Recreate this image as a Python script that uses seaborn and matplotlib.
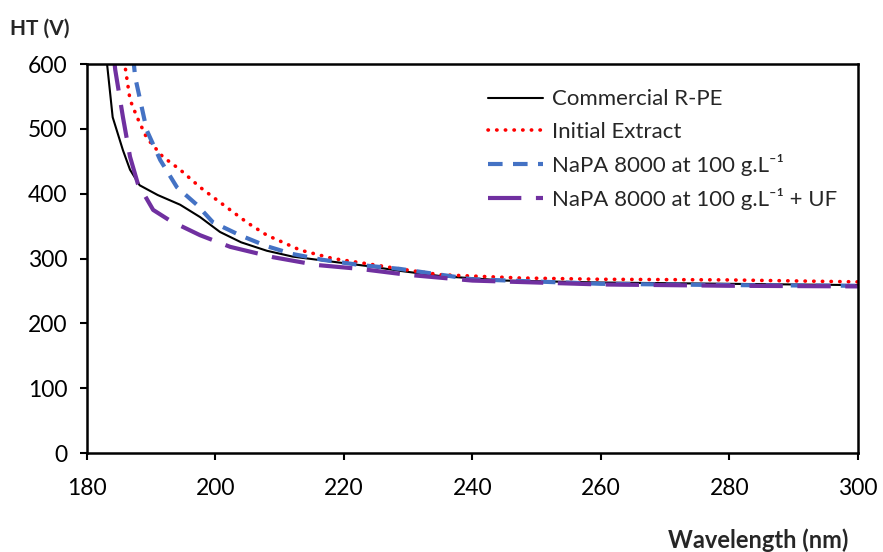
import pandas as pd
import seaborn as sns
import matplotlib.pyplot as plt

# data
commercial_x = [183.0, 184.0, 185.6, 186.7, 188.2, 191.0, 194.5, 197.6, 200.7, 204.0,
                208.0, 212.0, 218.3, 224.0, 228.7, 235.0, 245.0, 260.0, 280.0, 300.0]
commercial_y = [612, 518, 467, 437, 413, 398, 383, 364, 341, 325,
                312, 303, 295, 288, 281, 273, 266, 263, 261, 259]

initial_x = [185.8, 186.7, 187.8, 189.3, 191.8, 194.5, 197.6, 200.0, 202.7, 205.0,
             208.0, 213.2, 218.3, 223.6, 228.7, 235.0, 247.4, 260.0, 280.0, 300.0]
initial_y = [605, 545, 518, 486, 457, 437, 410, 392, 372, 355,
             336, 313, 300, 292, 284, 275, 270, 268, 267, 264]

napa_x = [187.2, 187.5, 189.3, 191.4, 194.0, 197.1, 199.6, 203.8, 208.0, 212.0,
          216.7, 222.5, 228.7, 240.0, 260.0, 280.0, 300.0]
napa_y = [610, 580, 498, 452, 410, 383, 356, 336, 319, 307,
          298, 290, 284, 268, 261, 259, 258]

napa_uf_x = [184.2, 184.4, 185.6, 186.7, 187.9, 190.3, 193.0, 197.6, 202.3, 209.0,
             215.8, 222.5, 229.8, 240.0, 260.0, 280.0, 300.0]
napa_uf_y = [610, 591, 518, 457, 416, 375, 358, 336, 318, 302,
             290, 284, 275, 266, 260, 258, 257]

labels = ["Commercial R-PE", "Initial Extract",
          "NaPA 8000 at 100 g.L\u207b\u00b9", "NaPA 8000 at 100 g.L\u207b\u00b9 + UF"]

sns.set_style("ticks")
plt.rcParams["font.family"] = ["Lato", "DejaVu Sans"]

fig = plt.figure(figsize=(8.83, 5.52), dpi=100)
ax = fig.add_axes([0.0985, 0.1793, 0.873, 0.7047])

sns.lineplot(x=commercial_x, y=commercial_y, ax=ax, color="black",
             linewidth=1.5, label=labels[0])
sns.lineplot(x=initial_x, y=initial_y, ax=ax, color="#ff0000",
             linewidth=2.6, linestyle=(0, (0.1, 2.3)), dash_capstyle="round",
             label=labels[1])
sns.lineplot(x=napa_x, y=napa_y, ax=ax, color="#4472c4",
             linewidth=3, linestyle=(0, (3.5, 2.5)), label=labels[2])
sns.lineplot(x=napa_uf_x, y=napa_uf_y, ax=ax, color="#7030a0",
             linewidth=3, linestyle=(0, (8, 3.5)), label=labels[3])

ax.set_xlim(180, 300)
ax.set_ylim(0, 600)
ax.set_xticks(range(180, 301, 20))
ax.set_yticks(range(0, 601, 100))
ax.tick_params(labelsize=16.5, direction="out", length=5, width=1.5, colors="black")
ax.tick_params(axis="x", pad=13)
ax.tick_params(axis="y", pad=9)
for s in ax.spines.values():
    s.set_visible(True)
    s.set_color("black")
    s.set_linewidth(1.8)
ax.set_xlabel("")
ax.set_ylabel("")

ax.legend(loc="upper left", bbox_to_anchor=(0.52, 0.935), frameon=False,
          fontsize=16, handlelength=2.5, handletextpad=0.4, labelspacing=0.55,
          borderaxespad=0, borderpad=0)

fig.text(0.011, 0.948, "HT (V)", fontsize=15, fontweight="bold", va="center")
fig.text(0.961, 0.022, "Wavelength (nm)", fontsize=17, fontweight="bold",
         ha="right", va="center")

fig.savefig("out.png", dpi=100)
